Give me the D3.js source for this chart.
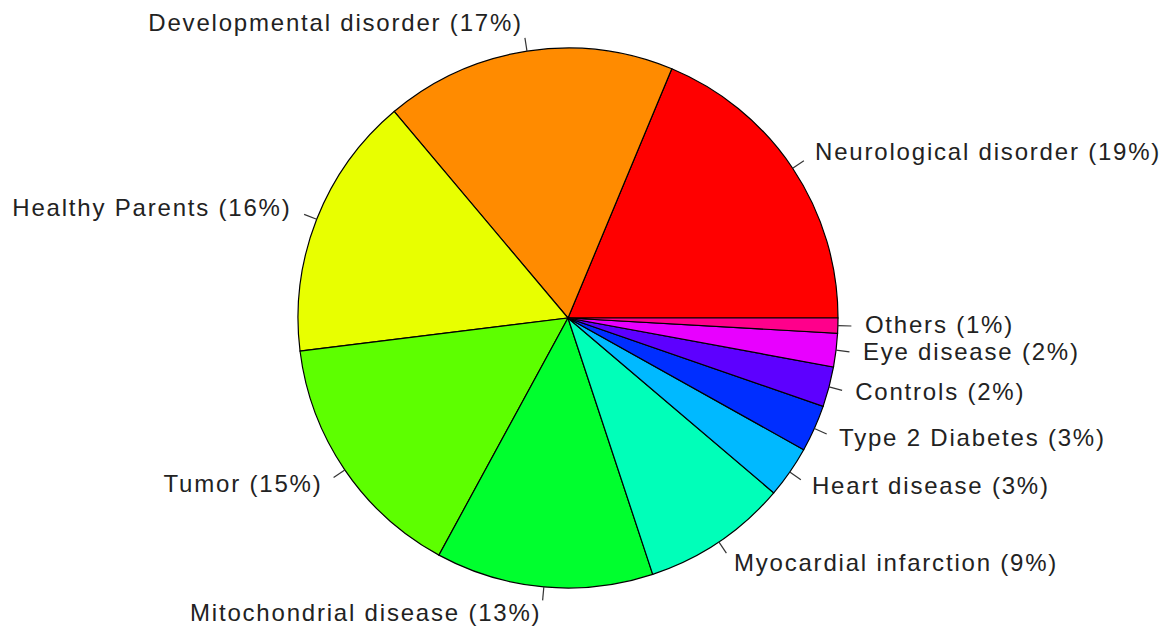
<!DOCTYPE html>
<html>
<head>
<meta charset="utf-8">
<script src="https://cdn.jsdelivr.net/npm/d3@7"></script>
<style>
  body { margin: 0; background: #fff; }
  .lbl { font-family: "Liberation Sans", Arial, sans-serif; font-size: 24px; letter-spacing: 1.8px; fill: #222; }
</style>
</head>
<body>
<div class="chart"></div>
<script>
// Data (share of samples, %)
var categories = ["Neurological disorder", "Developmental disorder", "Healthy Parents", "Tumor",
  "Mitochondrial disease", "Myocardial infarction", "Heart disease", "Type 2 Diabetes",
  "Controls", "Eye disease", "Others"];
var values = [18.7, 17.4, 15.8, 15.1, 13.0, 8.7, 3.1, 2.8, 2.4, 2.0, 0.9];
var pctLabels = ["19%", "17%", "16%", "15%", "13%", "9%", "3%", "3%", "2%", "2%", "1%"];
var colors = ["#FF0000", "#FF8B00", "#E8FF00", "#5DFF00", "#00FF2E", "#00FFB9",
  "#00B9FF", "#002EFF", "#5D00FF", "#E800FF", "#FF008B"];

var svgWidth = 1164;
var svgHeight = 630;
var cx = 568, cy = 318, radius = 270;

var svg = d3.select(".chart")
    .append("svg")
    .attr("width", svgWidth)
    .attr("height", svgHeight)
    .append("g")
    .attr("transform", "translate(" + cx + "," + cy + ")");

// R style pie: start at 3 o'clock, go counter-clockwise
var pie = d3.pie()
    .sort(null)
    .value(function(d) { return d; })
    .startAngle(Math.PI / 2)
    .endAngle(Math.PI / 2 - 2 * Math.PI);

var arcs = pie(values);

var arc = d3.arc().innerRadius(0).outerRadius(radius);

svg.selectAll(".slice")
    .data(arcs)
    .enter()
    .append("path")
    .attr("class", "slice")
    .attr("d", arc)
    .style("fill", function(d, i) { return colors[i]; })
    .style("stroke", "#000")
    .style("stroke-width", 1.2);

// mid angle in d3 convention (0 = 12 o'clock, clockwise)
function mid(d) { return (d.startAngle + d.endAngle) / 2; }

svg.selectAll(".tick")
    .data(arcs)
    .enter()
    .append("line")
    .attr("x1", function(d) { return radius * Math.sin(mid(d)); })
    .attr("y1", function(d) { return -radius * Math.cos(mid(d)); })
    .attr("x2", function(d) { return 1.05 * radius * Math.sin(mid(d)); })
    .attr("y2", function(d) { return -1.05 * radius * Math.cos(mid(d)); })
    .style("stroke", "#333")
    .style("stroke-width", 1.2);

svg.selectAll(".lbl")
    .data(arcs)
    .enter()
    .append("text")
    .attr("class", "lbl")
    .attr("x", function(d) { return 1.1 * radius * Math.sin(mid(d)); })
    .attr("y", function(d) { return -1.1 * radius * Math.cos(mid(d)); })
    .attr("dy", "0.28em")
    .attr("text-anchor", function(d) { return Math.sin(mid(d)) < 0 ? "end" : "start"; })
    .text(function(d, i) { return categories[i] + " (" + pctLabels[i] + ")"; });
</script>
</body>
</html>
